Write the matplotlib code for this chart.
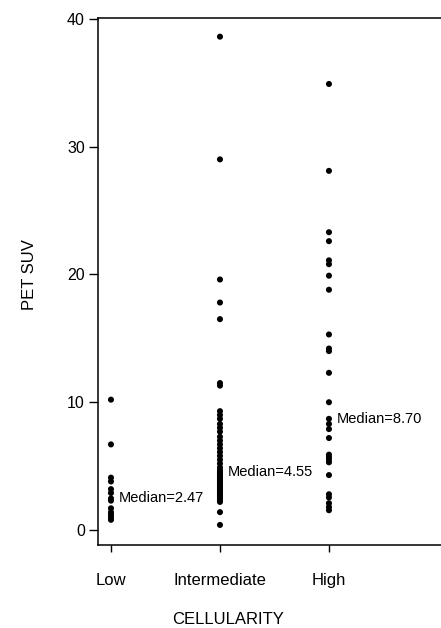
import matplotlib
matplotlib.use("Agg")
import matplotlib.pyplot as plt

plt.rcParams['font.family'] = ['Liberation Sans', 'DejaVu Sans']

categories = ["Low", "Intermediate", "High"]
low_vals = [10.2, 6.7, 4.1, 3.8, 3.2, 2.9, 2.47, 2.3, 1.7, 1.4, 1.2, 1.0, 0.8]
int_vals = [38.6, 29.0, 19.6, 17.8, 16.5, 11.5, 11.3, 9.3, 9.0, 8.7, 8.3, 8.0, 7.7,
            7.3, 7.0, 6.7, 6.4, 6.1, 5.8, 5.5, 5.2, 4.9, 4.7, 4.55,
            4.45, 4.34, 4.23, 4.12, 4.0, 3.89, 3.78, 3.67, 3.56, 3.45, 3.34,
            3.23, 3.12, 3.0, 2.89, 2.78, 2.67, 2.56, 2.45, 2.34, 2.2, 1.4, 0.4]
high_vals = [34.9, 28.1, 23.3, 22.6, 21.1, 20.8, 19.9, 18.8, 15.3, 14.2, 14.0, 12.3, 10.0,
             8.7, 8.3, 7.9, 7.2, 5.9, 5.7, 5.5, 5.3, 4.3, 2.8, 2.55, 2.1, 1.8, 1.55]
medians = [2.47, 4.55, 8.70]
yticks = [0, 10, 20, 30, 40]

fig = plt.figure(figsize=(4.41, 6.28), dpi=100)
ax = fig.add_axes([98/441, 1 - 545/628, 1 - 98/441, (545 - 18)/628])

series = [low_vals, int_vals, high_vals]
for i, vals in enumerate(series):
    ax.scatter([i + 1] * len(vals), vals, s=19, color='black', edgecolors='none', zorder=3)
    ax.text(i + 1 + 0.068, medians[i], f"Median={medians[i]:.2f}", fontsize=10.5,
            va='center', ha='left')

ax.set_xlim(0.881, 4.028)
ax.set_ylim(-1.17, 40.06)
ax.set_xticks([1, 2, 3])
ax.set_xticklabels(categories, fontsize=12)
ax.set_yticks(yticks)
ax.set_yticklabels([str(t) for t in yticks], fontsize=11.5)
ax.tick_params(axis='x', direction='out', length=5, width=1, pad=15)
ax.tick_params(axis='y', direction='out', length=6.5, width=1, pad=3)
ax.spines['right'].set_visible(False)
for s in ['left', 'bottom', 'top']:
    ax.spines[s].set_linewidth(1.1)

fig.text(228/441, 1 - 620/628, "CELLULARITY", fontsize=12, ha='center', va='center')
fig.text(30/441, 1 - 275/628, "PET SUV", fontsize=12, ha='center', va='center', rotation=90)

fig.savefig("out.png", dpi=100)
